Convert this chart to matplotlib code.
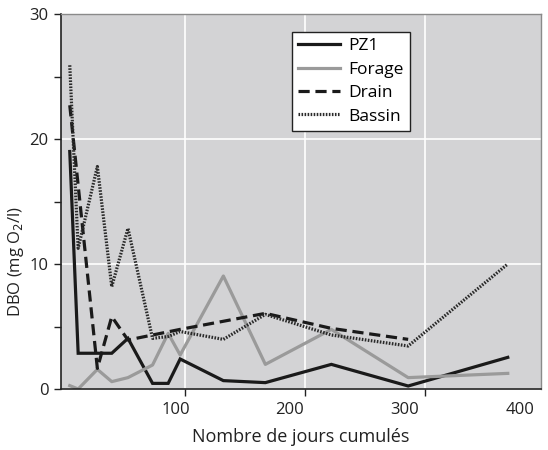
import matplotlib
matplotlib.use("Agg")
import matplotlib.pyplot as plt
from matplotlib.ticker import MultipleLocator

plt.rcParams['font.family'] = ['Open Sans', 'DejaVu Sans']

# Data (cumulative days, DBO mg O2/l)
days = [4, 11, 27, 39, 52.5, 73, 86, 96, 132, 167, 222, 286, 369]
pz1 = [19.0, 2.86, 2.86, 2.86, 4.05, 0.45, 0.45, 2.4, 0.67, 0.51, 1.97, 0.24, 2.53]
forage = [0.27, 0.0, 1.57, 0.59, 0.91, 1.92, 4.45, 2.72, 9.04, 1.97, 4.77, 0.91, 1.25]
drain_days = [4, 27, 39, 52.5, 96, 167, 222, 286]
drain = [22.7, 1.65, 5.79, 3.92, 4.77, 6.05, 4.85, 3.97]
bassin_days = [4, 11, 27, 39, 52.5, 73, 86, 96, 132, 167, 222, 286, 369]
bassin = [25.9, 11.25, 17.8, 8.19, 12.85, 4.05, 4.2, 4.6, 3.97, 5.97, 4.32, 3.44, 10.0]

xtick_vals = [100, 200, 300]
xtick_label_text = ["100", "200", "300", "400"]
xtick_label_pos = [92.5, 187.5, 283, 379]

fig = plt.figure(figsize=(5.48, 4.5), dpi=100)
ax = fig.add_axes([61/548, 61/450, 480/548, 375/450])
ax.set_facecolor('#d3d3d5')

ax.plot(days, pz1, color='#1a1a1a', lw=2.3, label='PZ1', solid_joinstyle='miter')
ax.plot(days, forage, color='#9a9a9a', lw=2.3, label='Forage')
ax.plot(drain_days, drain, color='#1a1a1a', lw=2.3, dashes=(3.5, 1.8), label='Drain')
ax.plot(bassin_days, bassin, color='#2a2a2a', lw=2.3, dashes=(0.5, 0.45), label='Bassin')

ax.set_xlim(-3.3, 396.7)
ax.set_ylim(0, 30)

ax.set_xticks(xtick_vals)
ax.set_xticklabels([])
for pos, t in zip(xtick_label_pos, xtick_label_text):
    ax.text(pos, -1.0, t, ha='center', va='top', fontsize=12, color='#222222')
ax.yaxis.set_major_locator(MultipleLocator(10))
ax.yaxis.set_minor_locator(MultipleLocator(5))
ax.tick_params(axis='both', which='both', direction='out', length=5, width=1, colors='#222222', labelsize=12)
ax.tick_params(axis='y', pad=4)

ax.grid(True, which='major', color='white', lw=1.2)
ax.set_axisbelow(True)

for s in ['top', 'right']:
    ax.spines[s].set_color('#8a8a8a')
    ax.spines[s].set_linewidth(1)
for s in ['left', 'bottom']:
    ax.spines[s].set_color('#222222')
    ax.spines[s].set_linewidth(1.2)

ax.set_xlabel('Nombre de jours cumulés', fontsize=13, color='#222222')
ax.xaxis.set_label_coords(0.5, -0.105)
ax.set_ylabel('DBO (mg O$_2$/l)', fontsize=12, color='#222222')
ax.yaxis.set_label_coords(-0.073, 0.34)

leg = ax.legend(loc='upper left', bbox_to_anchor=(0.481, 0.952), fontsize=12.5,
                frameon=True, fancybox=False, edgecolor='#222222', facecolor='white',
                framealpha=1, handlelength=2.4, handletextpad=0.5, borderpad=0.35,
                labelspacing=0.42, borderaxespad=0)
leg.get_frame().set_linewidth(1)

fig.savefig('out.png', dpi=100)
